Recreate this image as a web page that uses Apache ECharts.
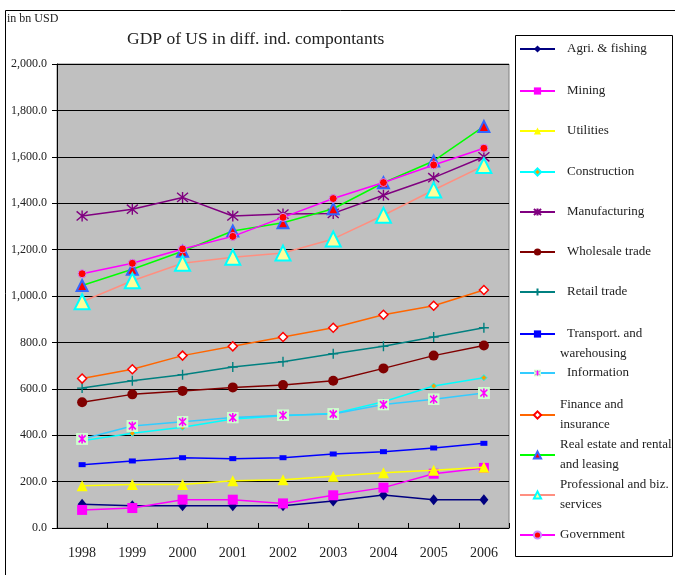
<!DOCTYPE html>
<html>
<head>
<meta charset="utf-8">
<script src="https://cdn.jsdelivr.net/npm/echarts@6/dist/echarts.min.js"></script>
<style>
  html, body { margin: 0; padding: 0; background: #ffffff; }
  #chart { width: 675px; height: 575px; }
</style>
</head>
<body>
<div id="chart"></div>
<script>
// GDP of US by industry, in bn USD
const years = ['1998', '1999', '2000', '2001', '2002', '2003', '2004', '2005', '2006'];

const agriFishing          = [102, 96, 96, 96, 96, 116, 142, 122, 122];
const mining               = [78, 86, 122, 122, 106, 141, 174, 234, 259];
const utilities            = [182, 187, 187, 204, 208, 223, 238, 249, 262];
const construction         = [376, 408, 434, 470, 484, 493, 544, 612, 648];
const manufacturing        = [1345, 1374, 1425, 1345, 1353, 1356, 1434, 1510, 1600];
const wholesaleTrade       = [542, 576, 591, 606, 616, 635, 688, 743, 787];
const retailTrade          = [603, 635, 661, 694, 717, 751, 783, 823, 863];
const transportWarehousing = [273, 289, 303, 299, 303, 319, 329, 345, 365];
const information          = [384, 440, 458, 476, 486, 491, 532, 555, 582];
const financeInsurance     = [644, 684, 743, 783, 823, 863, 919, 958, 1026];
const realEstateLeasing    = [1045, 1115, 1193, 1280, 1316, 1376, 1488, 1582, 1731];
const professionalServices = [975, 1066, 1141, 1167, 1185, 1246, 1348, 1457, 1562];
const government           = [1096, 1141, 1203, 1257, 1339, 1420, 1489, 1565, 1637];

const seriesNames = [
  'Agri. & fishing', 'Mining', 'Utilities', 'Construction', 'Manufacturing',
  'Wholesale trade', 'Retail trade', 'Transport. and warehousing', 'Information',
  'Finance and insurance', 'Real estate and rental and leasing',
  'Professional and biz. services', 'Government'
];
const seriesValues = [
  agriFishing, mining, utilities, construction, manufacturing,
  wholesaleTrade, retailTrade, transportWarehousing, information,
  financeInsurance, realEstateLeasing, professionalServices, government
];

// Legend label text as printed (line breaks included)
const legendLabels = [
  ['Agri. & fishing'], ['Mining'], ['Utilities'], ['Construction'], ['Manufacturing'],
  ['Wholesale trade'], ['Retail trade'], ['Transport. and', 'warehousing'], ['Information'],
  ['Finance and', 'insurance'], ['Real estate and rental', 'and leasing'],
  ['Professional and biz.', 'services'], ['Government']
];

const FONT = '"Liberation Serif", "Times New Roman", serif';
const TEXT = '#222222';

// Marker shapes
const asteriskPath = 'path://M0,0L10,10M10,0L0,10M5,-1L5,11';
const plusPath = 'path://M5,0L5,10M0,5L10,5';
const infoSvg = "<svg xmlns='http://www.w3.org/2000/svg' width='12' height='12'>" +
  "<rect width='12' height='12' fill='#ccffcc'/>" +
  "<path d='M2.5,2.5L9.5,9.5M9.5,2.5L2.5,9.5M6,1.5L6,10.5' stroke='#ff00ff' stroke-width='1.6' fill='none'/></svg>";
const infoSymbol = 'image://data:image/svg+xml;charset=utf-8,' + encodeURIComponent(infoSvg);

const styles = [
  { line: '#000080', symbol: 'diamond', size: [9, 11], fill: '#000080' },
  { line: '#ff00ff', symbol: 'rect', size: 10, fill: '#ff00ff' },
  { line: '#ffff00', symbol: 'triangle', size: 11, fill: '#ffff00' },
  { line: '#00ffff', symbol: 'diamond', size: 6, fill: '#ff9900', border: '#00ffff', bw: 1 },
  { line: '#800080', symbol: asteriskPath, size: 11, fill: 'none', border: '#800080', bw: 1.4 },
  { line: '#800000', symbol: 'circle', size: 10, fill: '#800000' },
  { line: '#008080', symbol: plusPath, size: 10, fill: 'none', border: '#008080', bw: 1.4 },
  { line: '#0000ff', symbol: 'rect', size: [7, 5], fill: '#0000ff' },
  { line: '#33ccff', symbol: infoSymbol, size: 12, fill: '#ff00ff' },
  { line: '#ff6600', symbol: 'diamond', size: 9, fill: '#ffffff', border: '#ff0000', bw: 1.5 },
  { line: '#00ff00', symbol: 'triangle', size: 11, fill: '#ff0000', border: '#3366ff', bw: 2 },
  { line: '#ff8f80', symbol: 'triangle', size: 15, fill: '#ffff99', border: '#00ffff', bw: 2 },
  { line: '#ff00ff', symbol: 'circle', size: 8, fill: '#ff0000', border: '#cc88ff', bw: 1 }
];

const series = seriesNames.map((name, i) => {
  const s = styles[i];
  return {
    name: name,
    type: 'line',
    data: seriesValues[i],
    symbol: s.symbol,
    symbolSize: s.size,
    showAllSymbol: true,
    z: 2 + i,
    lineStyle: { color: s.line, width: 1.5 },
    itemStyle: {
      color: s.fill,
      borderColor: s.border || s.fill,
      borderWidth: s.bw || 0
    },
    emphasis: { disabled: true },
    animation: false
  };
});

// Legend rows: vertical centre of the first text line of each entry
const legendRowY = [49, 91, 131, 172, 212, 252, 292, 334, 373, 415, 455, 495, 535];
const indented = [true, true, true, true, true, true, true, true, true, false, false, false, false];

const legends = seriesNames.map((name, i) => {
  const lines = legendLabels[i];
  const two = lines.length === 2;
  const base = { fontFamily: FONT, fontSize: 13, color: TEXT, lineHeight: 20 };
  const lg = {
    data: [name],
    orient: 'vertical',
    left: 519,
    top: legendRowY[i] - (two ? 30 : 10),
    padding: 0,
    itemWidth: 35,
    itemHeight: 9,
    itemGap: 0,
    textStyle: Object.assign({}, base, {
      padding: [two ? 20 : 0, 0, 0, (indented[i] && !two) ? 7 : 0],
      backgroundColor: 'rgba(0,0,0,0)'
    })
  };
  if (two) {
    if (indented[i]) {
      lg.formatter = () => '{a|' + lines[0] + '}\n{b|' + lines[1] + '}';
      lg.textStyle.rich = {
        a: Object.assign({}, base, { padding: [0, 0, 0, 7] }),
        b: Object.assign({}, base)
      };
    } else {
      lg.formatter = () => lines.join('\n');
    }
  }
  return lg;
});

const chart = echarts.init(document.getElementById('chart'), null, { renderer: 'canvas' });

chart.setOption({
  animation: false,
  backgroundColor: '#ffffff',
  title: [
    {
      text: 'GDP of US in diff. ind. compontants',
      left: 127, top: 30, padding: 0,
      textStyle: { fontFamily: FONT, fontSize: 17.5, fontWeight: 'normal', color: TEXT }
    },
    {
      text: 'in bn USD',
      left: 7, top: 13, padding: 0,
      textStyle: { fontFamily: FONT, fontSize: 12, fontWeight: 'normal', color: TEXT }
    }
  ],
  graphic: [
    {
      type: 'rect', silent: true, z: -10,
      shape: { x: 5.5, y: 10.5, width: 700, height: 600 },
      style: { fill: 'none', stroke: '#000000', lineWidth: 1 }
    },
    {
      type: 'rect', silent: true, z: -10,
      shape: { x: 515.5, y: 35.5, width: 157, height: 521 },
      style: { fill: '#ffffff', stroke: '#000000', lineWidth: 1 }
    }
  ],
  legend: legends,
  grid: {
    left: 57, right: 166, top: 64, bottom: 47,
    show: true,
    backgroundColor: '#c0c0c0',
    borderColor: '#808080',
    borderWidth: 1
  },
  xAxis: {
    type: 'category',
    data: years,
    boundaryGap: true,
    axisLine: { show: true, lineStyle: { color: '#000000', width: 1 } },
    axisTick: { show: true, inside: true, length: 5, lineStyle: { color: '#000000' } },
    axisLabel: { fontFamily: FONT, fontSize: 14, color: TEXT, margin: 18 },
    splitLine: { show: false }
  },
  yAxis: {
    type: 'value',
    min: 0, max: 2000, interval: 200,
    axisLine: { show: true, lineStyle: { color: '#000000', width: 1 } },
    axisTick: { show: true, inside: false, length: 5, lineStyle: { color: '#000000' } },
    axisLabel: {
      fontFamily: FONT, fontSize: 12, color: TEXT, margin: 10,
      formatter: v => v.toLocaleString('en-US', { minimumFractionDigits: 1, maximumFractionDigits: 1 })
    },
    splitLine: { show: true, lineStyle: { color: '#000000', width: 1 } }
  },
  series: series
});
</script>
</body>
</html>
